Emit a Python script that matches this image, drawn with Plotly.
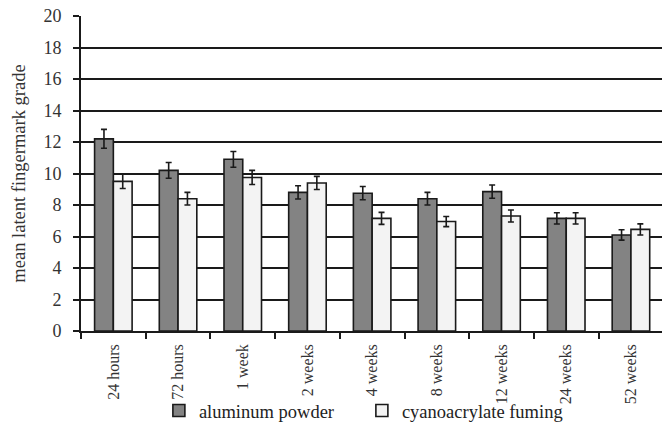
import plotly.graph_objects as go

# Storage interval categories
periods = ["24 hours", "72 hours", "1 week", "2 weeks", "4 weeks",
           "8 weeks", "12 weeks", "24 weeks", "52 weeks"]

# Mean latent fingermark grade per development technique
aluminum_mean = [12.2, 10.2, 10.9, 8.8, 8.75, 8.4, 8.85, 7.15, 6.1]
aluminum_err = [0.6, 0.5, 0.5, 0.42, 0.42, 0.4, 0.42, 0.36, 0.33]

cyano_mean = [9.5, 8.4, 9.75, 9.4, 7.15, 6.95, 7.3, 7.15, 6.45]
cyano_err = [0.45, 0.4, 0.45, 0.42, 0.38, 0.32, 0.38, 0.36, 0.35]

y_ticks = list(range(0, 21, 2))

FONT = "Liberation Serif"
INK = "#1a1a1a"

fig = go.Figure()
fig.add_trace(go.Bar(
    name="aluminum powder", x=periods, y=aluminum_mean,
    marker=dict(color="#838383", line=dict(color=INK, width=1.6)),
    error_y=dict(type="data", array=aluminum_err, color=INK,
                 thickness=1.6, width=3),
))
fig.add_trace(go.Bar(
    name="cyanoacrylate fuming", x=periods, y=cyano_mean,
    marker=dict(color="#f3f3f3", line=dict(color=INK, width=1.6)),
    error_y=dict(type="data", array=cyano_err, color=INK,
                 thickness=1.6, width=3),
))

fig.update_layout(
    width=662, height=440,
    margin=dict(l=81, r=0, t=16, b=109, autoexpand=False),
    paper_bgcolor="white", plot_bgcolor="white",
    barmode="group", bargap=0.42, bargroupgap=0,
    font=dict(family=FONT, size=18, color="#333333"),
    showlegend=True,
    legend=dict(
        orientation="h", xref="container", yref="container",
        x=0.24, y=0.066, xanchor="left", yanchor="middle",
        bgcolor="rgba(0,0,0,0)",
        font=dict(family=FONT, size=18.5, color="#222222"),
        entrywidth=158, entrywidthmode="pixels",
        itemwidth=30, tracegroupgap=0,
    ),
)

fig.update_xaxes(
    type="category", categoryorder="array", categoryarray=periods,
    range=[-0.5, 8.48], automargin=False,
    tickangle=-90, tickfont=dict(family=FONT, size=16, color="#333333"),
    ticks="outside", ticklen=6, tickwidth=1.5, tickcolor=INK,
    tickson="boundaries", ticklabelstandoff=5,
    showline=True, linecolor=INK, linewidth=1.6,
    showgrid=False, zeroline=False,
)
fig.update_yaxes(
    range=[0, 20], tickvals=y_ticks, automargin=False,
    tickfont=dict(family=FONT, size=18, color="#333333"),
    ticks="outside", ticklen=6, tickwidth=1.5, tickcolor=INK,
    ticklabelstandoff=8,
    showline=True, linecolor=INK, linewidth=1.6,
    showgrid=True, gridcolor=INK, gridwidth=1.5,
    zeroline=False,
    title=dict(text="mean latent fingermark grade",
               font=dict(family=FONT, size=18.5, color="#333333"),
               standoff=13),
)

fig.write_html("out.html")
